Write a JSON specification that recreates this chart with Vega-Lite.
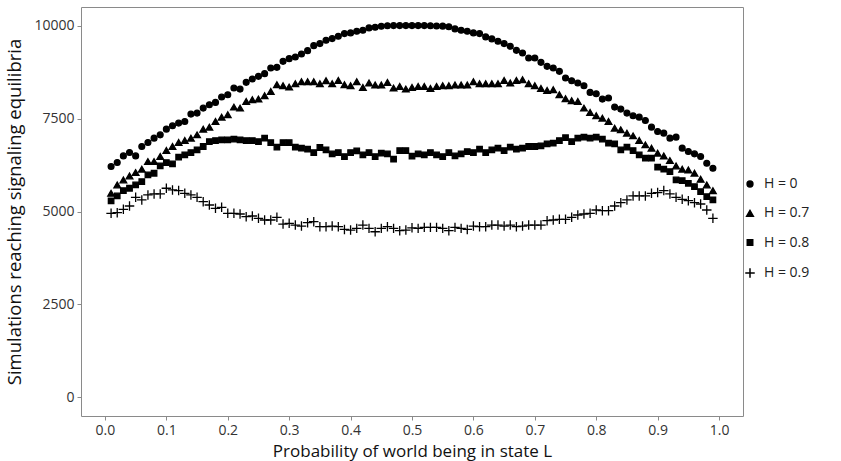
{
"$schema": "https://vega.github.io/schema/vega-lite/v6.json",
"width": 662, "height": 409,
"autosize": {"type": "none"},
"padding": {"left": 81, "top": 7, "right": 98, "bottom": 45},
"config": {"font": "Open Sans", "view": {"stroke": "#8a8a8a", "strokeWidth": 1},
 "axis": {"domain": false, "grid": false, "tickColor": "#8a8a8a", "tickSize": 4, "labelColor": "#333333", "labelFontSize": 14, "titleFontWeight": "normal", "titleColor": "#111111"},
 "legend": {"labelFontSize": 14, "labelColor": "#222222"}},
"data": {"values": [
{"p":0.01,"H":"0","n":6209},{"p":0.02,"H":"0","n":6317},{"p":0.03,"H":"0","n":6496},{"p":0.04,"H":"0","n":6586},{"p":0.05,"H":"0","n":6496},{"p":0.06,"H":"0","n":6748},{"p":0.07,"H":"0","n":6855},{"p":0.08,"H":"0","n":6972},{"p":0.09,"H":"0","n":7062},{"p":0.10,"H":"0","n":7215},
{"p":0.11,"H":"0","n":7305},{"p":0.12,"H":"0","n":7377},{"p":0.13,"H":"0","n":7422},{"p":0.14,"H":"0","n":7619},{"p":0.15,"H":"0","n":7646},{"p":0.16,"H":"0","n":7781},{"p":0.17,"H":"0","n":7871},{"p":0.18,"H":"0","n":7934},{"p":0.19,"H":"0","n":8078},{"p":0.20,"H":"0","n":8140},
{"p":0.21,"H":"0","n":8320},{"p":0.22,"H":"0","n":8293},{"p":0.23,"H":"0","n":8473},{"p":0.24,"H":"0","n":8563},{"p":0.25,"H":"0","n":8635},{"p":0.26,"H":"0","n":8707},{"p":0.27,"H":"0","n":8859},{"p":0.28,"H":"0","n":8877},{"p":0.29,"H":"0","n":9039},{"p":0.30,"H":"0","n":9111},
{"p":0.31,"H":"0","n":9156},{"p":0.32,"H":"0","n":9237},{"p":0.33,"H":"0","n":9326},{"p":0.34,"H":"0","n":9461},{"p":0.35,"H":"0","n":9515},{"p":0.36,"H":"0","n":9605},{"p":0.37,"H":"0","n":9650},{"p":0.38,"H":"0","n":9713},{"p":0.39,"H":"0","n":9785},{"p":0.40,"H":"0","n":9803},
{"p":0.41,"H":"0","n":9848},{"p":0.42,"H":"0","n":9874},{"p":0.43,"H":"0","n":9937},{"p":0.44,"H":"0","n":9955},{"p":0.45,"H":"0","n":9982},{"p":0.46,"H":"0","n":9995},{"p":0.47,"H":"0","n":10000},{"p":0.48,"H":"0","n":10000},{"p":0.49,"H":"0","n":10000},{"p":0.50,"H":"0","n":10000},
{"p":0.51,"H":"0","n":10000},{"p":0.52,"H":"0","n":10000},{"p":0.53,"H":"0","n":9995},{"p":0.54,"H":"0","n":9990},{"p":0.55,"H":"0","n":9985},{"p":0.56,"H":"0","n":9970},{"p":0.57,"H":"0","n":9910},{"p":0.58,"H":"0","n":9874},{"p":0.59,"H":"0","n":9848},{"p":0.60,"H":"0","n":9803},
{"p":0.61,"H":"0","n":9785},{"p":0.62,"H":"0","n":9695},{"p":0.63,"H":"0","n":9641},{"p":0.64,"H":"0","n":9578},{"p":0.65,"H":"0","n":9515},{"p":0.66,"H":"0","n":9443},{"p":0.67,"H":"0","n":9335},{"p":0.68,"H":"0","n":9263},{"p":0.69,"H":"0","n":9129},{"p":0.70,"H":"0","n":9129},
{"p":0.71,"H":"0","n":9012},{"p":0.72,"H":"0","n":8904},{"p":0.73,"H":"0","n":8859},{"p":0.74,"H":"0","n":8769},{"p":0.75,"H":"0","n":8590},{"p":0.76,"H":"0","n":8518},{"p":0.77,"H":"0","n":8455},{"p":0.78,"H":"0","n":8383},{"p":0.79,"H":"0","n":8203},{"p":0.80,"H":"0","n":8167},
{"p":0.81,"H":"0","n":8024},{"p":0.82,"H":"0","n":8051},{"p":0.83,"H":"0","n":7808},{"p":0.84,"H":"0","n":7754},{"p":0.85,"H":"0","n":7646},{"p":0.86,"H":"0","n":7574},{"p":0.87,"H":"0","n":7538},{"p":0.88,"H":"0","n":7449},{"p":0.89,"H":"0","n":7269},{"p":0.90,"H":"0","n":7152},
{"p":0.91,"H":"0","n":7107},{"p":0.92,"H":"0","n":6972},{"p":0.93,"H":"0","n":6999},{"p":0.94,"H":"0","n":6703},{"p":0.95,"H":"0","n":6613},{"p":0.96,"H":"0","n":6550},{"p":0.97,"H":"0","n":6478},{"p":0.98,"H":"0","n":6298},{"p":0.99,"H":"0","n":6164},
{"p":0.01,"H":"0.7","n":5489},{"p":0.02,"H":"0.7","n":5714},{"p":0.03,"H":"0.7","n":5849},{"p":0.04,"H":"0.7","n":5957},{"p":0.05,"H":"0.7","n":6047},{"p":0.06,"H":"0.7","n":6137},{"p":0.07,"H":"0.7","n":6343},{"p":0.08,"H":"0.7","n":6343},{"p":0.09,"H":"0.7","n":6478},{"p":0.10,"H":"0.7","n":6640},
{"p":0.11,"H":"0.7","n":6748},{"p":0.12,"H":"0.7","n":6855},{"p":0.13,"H":"0.7","n":6909},{"p":0.14,"H":"0.7","n":6972},{"p":0.15,"H":"0.7","n":7062},{"p":0.16,"H":"0.7","n":7215},{"p":0.17,"H":"0.7","n":7269},{"p":0.18,"H":"0.7","n":7422},{"p":0.19,"H":"0.7","n":7538},{"p":0.20,"H":"0.7","n":7601},
{"p":0.21,"H":"0.7","n":7808},{"p":0.22,"H":"0.7","n":7781},{"p":0.23,"H":"0.7","n":7961},{"p":0.24,"H":"0.7","n":8006},{"p":0.25,"H":"0.7","n":8024},{"p":0.26,"H":"0.7","n":8113},{"p":0.27,"H":"0.7","n":8230},{"p":0.28,"H":"0.7","n":8410},{"p":0.29,"H":"0.7","n":8383},{"p":0.30,"H":"0.7","n":8347},
{"p":0.31,"H":"0.7","n":8437},{"p":0.32,"H":"0.7","n":8491},{"p":0.33,"H":"0.7","n":8491},{"p":0.34,"H":"0.7","n":8491},{"p":0.35,"H":"0.7","n":8437},{"p":0.36,"H":"0.7","n":8518},{"p":0.37,"H":"0.7","n":8437},{"p":0.38,"H":"0.7","n":8527},{"p":0.39,"H":"0.7","n":8410},{"p":0.40,"H":"0.7","n":8383},
{"p":0.41,"H":"0.7","n":8491},{"p":0.42,"H":"0.7","n":8338},{"p":0.43,"H":"0.7","n":8455},{"p":0.44,"H":"0.7","n":8401},{"p":0.45,"H":"0.7","n":8401},{"p":0.46,"H":"0.7","n":8473},{"p":0.47,"H":"0.7","n":8320},{"p":0.48,"H":"0.7","n":8365},{"p":0.49,"H":"0.7","n":8293},{"p":0.50,"H":"0.7","n":8338},
{"p":0.51,"H":"0.7","n":8365},{"p":0.52,"H":"0.7","n":8365},{"p":0.53,"H":"0.7","n":8311},{"p":0.54,"H":"0.7","n":8365},{"p":0.55,"H":"0.7","n":8383},{"p":0.56,"H":"0.7","n":8383},{"p":0.57,"H":"0.7","n":8401},{"p":0.58,"H":"0.7","n":8401},{"p":0.59,"H":"0.7","n":8401},{"p":0.60,"H":"0.7","n":8491},
{"p":0.61,"H":"0.7","n":8437},{"p":0.62,"H":"0.7","n":8437},{"p":0.63,"H":"0.7","n":8437},{"p":0.64,"H":"0.7","n":8437},{"p":0.65,"H":"0.7","n":8527},{"p":0.66,"H":"0.7","n":8455},{"p":0.67,"H":"0.7","n":8527},{"p":0.68,"H":"0.7","n":8545},{"p":0.69,"H":"0.7","n":8437},{"p":0.70,"H":"0.7","n":8383},
{"p":0.71,"H":"0.7","n":8311},{"p":0.72,"H":"0.7","n":8257},{"p":0.73,"H":"0.7","n":8275},{"p":0.74,"H":"0.7","n":8140},{"p":0.75,"H":"0.7","n":8033},{"p":0.76,"H":"0.7","n":7979},{"p":0.77,"H":"0.7","n":7961},{"p":0.78,"H":"0.7","n":7781},{"p":0.79,"H":"0.7","n":7664},{"p":0.80,"H":"0.7","n":7574},
{"p":0.81,"H":"0.7","n":7511},{"p":0.82,"H":"0.7","n":7422},{"p":0.83,"H":"0.7","n":7242},{"p":0.84,"H":"0.7","n":7197},{"p":0.85,"H":"0.7","n":7107},{"p":0.86,"H":"0.7","n":7035},{"p":0.87,"H":"0.7","n":6909},{"p":0.88,"H":"0.7","n":6793},{"p":0.89,"H":"0.7","n":6703},{"p":0.90,"H":"0.7","n":6568},
{"p":0.91,"H":"0.7","n":6496},{"p":0.92,"H":"0.7","n":6370},{"p":0.93,"H":"0.7","n":6226},{"p":0.94,"H":"0.7","n":6137},{"p":0.95,"H":"0.7","n":6119},{"p":0.96,"H":"0.7","n":6029},{"p":0.97,"H":"0.7","n":5867},{"p":0.98,"H":"0.7","n":5714},{"p":0.99,"H":"0.7","n":5562},
{"p":0.01,"H":"0.8","n":5283},{"p":0.02,"H":"0.8","n":5418},{"p":0.03,"H":"0.8","n":5562},{"p":0.04,"H":"0.8","n":5625},{"p":0.05,"H":"0.8","n":5714},{"p":0.06,"H":"0.8","n":5804},{"p":0.07,"H":"0.8","n":5984},{"p":0.08,"H":"0.8","n":6029},{"p":0.09,"H":"0.8","n":6227},{"p":0.10,"H":"0.8","n":6317},
{"p":0.11,"H":"0.8","n":6281},{"p":0.12,"H":"0.8","n":6460},{"p":0.13,"H":"0.8","n":6523},{"p":0.14,"H":"0.8","n":6586},{"p":0.15,"H":"0.8","n":6658},{"p":0.16,"H":"0.8","n":6748},{"p":0.17,"H":"0.8","n":6882},{"p":0.18,"H":"0.8","n":6909},{"p":0.19,"H":"0.8","n":6927},{"p":0.20,"H":"0.8","n":6927},
{"p":0.21,"H":"0.8","n":6945},{"p":0.22,"H":"0.8","n":6927},{"p":0.23,"H":"0.8","n":6909},{"p":0.24,"H":"0.8","n":6909},{"p":0.25,"H":"0.8","n":6882},{"p":0.26,"H":"0.8","n":6972},{"p":0.27,"H":"0.8","n":6855},{"p":0.28,"H":"0.8","n":6730},{"p":0.29,"H":"0.8","n":6855},{"p":0.30,"H":"0.8","n":6855},
{"p":0.31,"H":"0.8","n":6730},{"p":0.32,"H":"0.8","n":6703},{"p":0.33,"H":"0.8","n":6676},{"p":0.34,"H":"0.8","n":6586},{"p":0.35,"H":"0.8","n":6721},{"p":0.36,"H":"0.8","n":6658},{"p":0.37,"H":"0.8","n":6550},{"p":0.38,"H":"0.8","n":6586},{"p":0.39,"H":"0.8","n":6478},{"p":0.40,"H":"0.8","n":6586},
{"p":0.41,"H":"0.8","n":6631},{"p":0.42,"H":"0.8","n":6523},{"p":0.43,"H":"0.8","n":6586},{"p":0.44,"H":"0.8","n":6478},{"p":0.45,"H":"0.8","n":6568},{"p":0.46,"H":"0.8","n":6550},{"p":0.47,"H":"0.8","n":6406},{"p":0.48,"H":"0.8","n":6640},{"p":0.49,"H":"0.8","n":6640},{"p":0.50,"H":"0.8","n":6487},
{"p":0.51,"H":"0.8","n":6550},{"p":0.52,"H":"0.8","n":6523},{"p":0.53,"H":"0.8","n":6586},{"p":0.54,"H":"0.8","n":6523},{"p":0.55,"H":"0.8","n":6478},{"p":0.56,"H":"0.8","n":6586},{"p":0.57,"H":"0.8","n":6496},{"p":0.58,"H":"0.8","n":6550},{"p":0.59,"H":"0.8","n":6613},{"p":0.60,"H":"0.8","n":6586},
{"p":0.61,"H":"0.8","n":6676},{"p":0.62,"H":"0.8","n":6586},{"p":0.63,"H":"0.8","n":6658},{"p":0.64,"H":"0.8","n":6703},{"p":0.65,"H":"0.8","n":6640},{"p":0.66,"H":"0.8","n":6730},{"p":0.67,"H":"0.8","n":6676},{"p":0.68,"H":"0.8","n":6703},{"p":0.69,"H":"0.8","n":6748},{"p":0.70,"H":"0.8","n":6748},
{"p":0.71,"H":"0.8","n":6766},{"p":0.72,"H":"0.8","n":6820},{"p":0.73,"H":"0.8","n":6837},{"p":0.74,"H":"0.8","n":6909},{"p":0.75,"H":"0.8","n":6985},{"p":0.76,"H":"0.8","n":6882},{"p":0.77,"H":"0.8","n":6972},{"p":0.78,"H":"0.8","n":6999},{"p":0.79,"H":"0.8","n":6972},{"p":0.80,"H":"0.8","n":6999},
{"p":0.81,"H":"0.8","n":6945},{"p":0.82,"H":"0.8","n":6837},{"p":0.83,"H":"0.8","n":6820},{"p":0.84,"H":"0.8","n":6658},{"p":0.85,"H":"0.8","n":6730},{"p":0.86,"H":"0.8","n":6640},{"p":0.87,"H":"0.8","n":6523},{"p":0.88,"H":"0.8","n":6433},{"p":0.89,"H":"0.8","n":6433},{"p":0.90,"H":"0.8","n":6191},
{"p":0.91,"H":"0.8","n":6137},{"p":0.92,"H":"0.8","n":6074},{"p":0.93,"H":"0.8","n":5849},{"p":0.94,"H":"0.8","n":5831},{"p":0.95,"H":"0.8","n":5759},{"p":0.96,"H":"0.8","n":5669},{"p":0.97,"H":"0.8","n":5535},{"p":0.98,"H":"0.8","n":5400},{"p":0.99,"H":"0.8","n":5310},
{"p":0.01,"H":"0.9","n":4951},{"p":0.02,"H":"0.9","n":4969},{"p":0.03,"H":"0.9","n":5058},{"p":0.04,"H":"0.9","n":5148},{"p":0.05,"H":"0.9","n":5382},{"p":0.06,"H":"0.9","n":5310},{"p":0.07,"H":"0.9","n":5445},{"p":0.08,"H":"0.9","n":5472},{"p":0.09,"H":"0.9","n":5472},{"p":0.10,"H":"0.9","n":5625},
{"p":0.11,"H":"0.9","n":5580},{"p":0.12,"H":"0.9","n":5562},{"p":0.13,"H":"0.9","n":5490},{"p":0.14,"H":"0.9","n":5445},{"p":0.15,"H":"0.9","n":5382},{"p":0.16,"H":"0.9","n":5265},{"p":0.17,"H":"0.9","n":5175},{"p":0.18,"H":"0.9","n":5085},{"p":0.19,"H":"0.9","n":5112},{"p":0.20,"H":"0.9","n":4951},
{"p":0.21,"H":"0.9","n":4951},{"p":0.22,"H":"0.9","n":4933},{"p":0.23,"H":"0.9","n":4861},{"p":0.24,"H":"0.9","n":4879},{"p":0.25,"H":"0.9","n":4816},{"p":0.26,"H":"0.9","n":4771},{"p":0.27,"H":"0.9","n":4771},{"p":0.28,"H":"0.9","n":4843},{"p":0.29,"H":"0.9","n":4663},{"p":0.30,"H":"0.9","n":4681},
{"p":0.31,"H":"0.9","n":4636},{"p":0.32,"H":"0.9","n":4609},{"p":0.33,"H":"0.9","n":4699},{"p":0.34,"H":"0.9","n":4726},{"p":0.35,"H":"0.9","n":4591},{"p":0.36,"H":"0.9","n":4591},{"p":0.37,"H":"0.9","n":4609},{"p":0.38,"H":"0.9","n":4591},{"p":0.39,"H":"0.9","n":4519},{"p":0.40,"H":"0.9","n":4501},
{"p":0.41,"H":"0.9","n":4546},{"p":0.42,"H":"0.9","n":4636},{"p":0.43,"H":"0.9","n":4546},{"p":0.44,"H":"0.9","n":4456},{"p":0.45,"H":"0.9","n":4546},{"p":0.46,"H":"0.9","n":4591},{"p":0.47,"H":"0.9","n":4546},{"p":0.48,"H":"0.9","n":4483},{"p":0.49,"H":"0.9","n":4501},{"p":0.50,"H":"0.9","n":4560},
{"p":0.51,"H":"0.9","n":4546},{"p":0.52,"H":"0.9","n":4573},{"p":0.53,"H":"0.9","n":4573},{"p":0.54,"H":"0.9","n":4573},{"p":0.55,"H":"0.9","n":4546},{"p":0.56,"H":"0.9","n":4483},{"p":0.57,"H":"0.9","n":4573},{"p":0.58,"H":"0.9","n":4546},{"p":0.59,"H":"0.9","n":4519},{"p":0.60,"H":"0.9","n":4609},
{"p":0.61,"H":"0.9","n":4591},{"p":0.62,"H":"0.9","n":4591},{"p":0.63,"H":"0.9","n":4636},{"p":0.64,"H":"0.9","n":4636},{"p":0.65,"H":"0.9","n":4609},{"p":0.66,"H":"0.9","n":4636},{"p":0.67,"H":"0.9","n":4591},{"p":0.68,"H":"0.9","n":4609},{"p":0.69,"H":"0.9","n":4636},{"p":0.70,"H":"0.9","n":4636},
{"p":0.71,"H":"0.9","n":4636},{"p":0.72,"H":"0.9","n":4753},{"p":0.73,"H":"0.9","n":4771},{"p":0.74,"H":"0.9","n":4789},{"p":0.75,"H":"0.9","n":4789},{"p":0.76,"H":"0.9","n":4843},{"p":0.77,"H":"0.9","n":4906},{"p":0.78,"H":"0.9","n":4933},{"p":0.79,"H":"0.9","n":4951},{"p":0.80,"H":"0.9","n":5040},
{"p":0.81,"H":"0.9","n":5022},{"p":0.82,"H":"0.9","n":5022},{"p":0.83,"H":"0.9","n":5148},{"p":0.84,"H":"0.9","n":5238},{"p":0.85,"H":"0.9","n":5310},{"p":0.86,"H":"0.9","n":5418},{"p":0.87,"H":"0.9","n":5418},{"p":0.88,"H":"0.9","n":5418},{"p":0.89,"H":"0.9","n":5490},{"p":0.90,"H":"0.9","n":5508},
{"p":0.91,"H":"0.9","n":5562},{"p":0.92,"H":"0.9","n":5472},{"p":0.93,"H":"0.9","n":5382},{"p":0.94,"H":"0.9","n":5328},{"p":0.95,"H":"0.9","n":5292},{"p":0.96,"H":"0.9","n":5238},{"p":0.97,"H":"0.9","n":5202},{"p":0.98,"H":"0.9","n":5040},{"p":0.99,"H":"0.9","n":4816}
]},
"mark": {"type": "point", "filled": false, "stroke": "black", "strokeWidth": 1.3, "opacity": 1},
"encoding": {
 "x": {"field": "p", "type": "quantitative", "scale": {"domain": [-0.039, 1.039], "nice": false, "zero": false},
  "axis": {"values": [0,0.1,0.2,0.3,0.4,0.5,0.6,0.7,0.8,0.9,1.0], "format": ".1f", "labelPadding": 3, "titlePadding": 6, "titleFontSize": 17},
  "title": "Probability of world being in state L"},
 "y": {"field": "n", "type": "quantitative", "scale": {"domain": [-500, 10500], "nice": false, "zero": false},
  "axis": {"values": [0,2500,5000,7500,10000], "format": "d", "labelPadding": 3, "titlePadding": 9, "titleFontSize": 18.5},
  "title": "Simulations reaching signaling equilibria"},
 "shape": {"field": "H", "type": "nominal", "scale": {"domain": ["0","0.7","0.8","0.9"], "range": ["circle","triangle-up","square","M-1,0L1,0M0,-1L0,1"]},
  "legend": {"title": null, "orient": "none", "legendX": 662, "legendY": 170, "labelExpr": "'H = ' + datum.label", "rowPadding": 15.3, "labelOffset": 7}},
 "fill": {"field": "H", "type": "nominal", "scale": {"domain": ["0","0.7","0.8","0.9"], "range": ["black","black","black","transparent"]}},
 "size": {"field": "H", "type": "nominal", "scale": {"type": "ordinal", "domain": ["0","0.7","0.8","0.9"], "range": [34, 44, 30, 90]}}
}
}
